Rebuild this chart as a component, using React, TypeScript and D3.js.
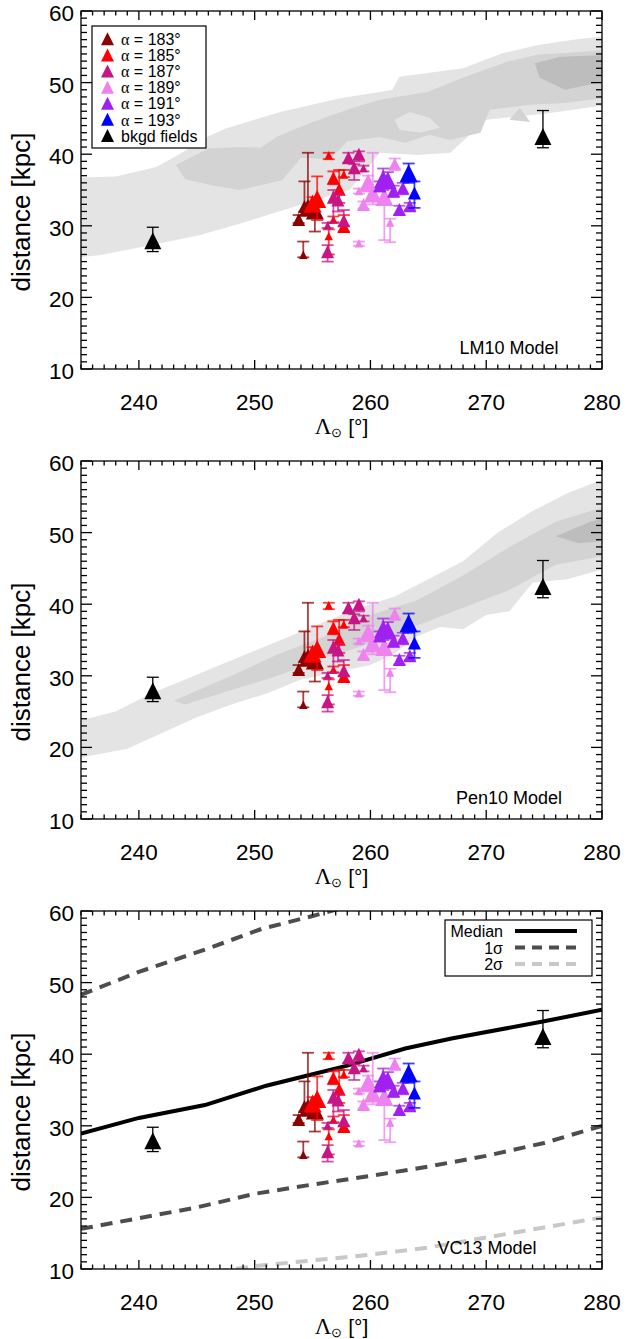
import React from 'react';
import * as d3 from 'd3';

// ---------------- DATA ----------------
const ALPHAS = [183, 185, 187, 189, 191, 193];
const ALPHA_COLORS = ['#8b0000', '#ff0000', '#c71585', '#ee82ee', '#a020f0', '#0000ff'];

// field stars: alpha group, Lambda_sun, distance, error low, error high, marker size class
const PT_ALPHA = [
  183, 183, 183, 183, 183,
  185, 185, 185, 185, 185, 185, 185, 185, 185,
  187, 187, 187, 187, 187, 187, 187, 187, 187,
  189, 189, 189, 189, 189, 189, 189, 189,
  191, 191, 191, 191, 191, 191, 191,
  193, 193,
];
const PT_LAMBDA = [
  253.8, 254.2, 254.6, 254.3, 255.2,
  255.4, 255.0, 256.4, 256.8, 257.3, 257.7, 256.8, 257.7, 256.4,
  258.1, 259.0, 258.6, 259.4, 256.8, 257.2, 257.7, 256.3, 256.3,
  259.0, 259.8, 259.4, 260.2, 261.2, 262.1, 259.0, 261.7,
  261.1, 261.5, 262.0, 262.8, 262.5, 263.4, 260.8,
  263.3, 263.8,
];
const PT_DIST = [
  30.8, 25.9, 32.4, 32.6, 32.0,
  33.6, 33.0, 39.8, 36.6, 35.0, 37.1, 30.8, 29.8, 28.5,
  39.4, 39.9, 38.0, 38.0, 33.9, 33.5, 30.6, 30.0, 26.3,
  34.8, 35.9, 32.9, 34.4, 33.9, 38.5, 27.5, 30.4,
  36.4, 36.2, 34.8, 35.2, 32.2, 32.7, 35.5,
  37.2, 34.5,
];
const PT_ERR_LO = [
  30.4, 25.6, 31.8, 32.0, 29.2,
  30.8, 32.0, 39.3, 35.8, 33.2, 36.8, 30.5, 29.2, 26.0,
  38.8, 39.0, 36.4, 37.6, 30.4, 32.0, 30.0, 29.7, 25.0,
  34.5, 34.8, 32.4, 33.0, 28.0, 38.0, 27.2, 27.7,
  35.0, 35.5, 34.0, 34.4, 31.6, 32.2, 34.8,
  36.0, 32.5,
];
const PT_ERR_HI = [
  31.5, 27.8, 40.2, 36.2, 32.8,
  36.9, 34.0, 40.2, 37.6, 37.8, 37.8, 31.3, 31.5, 29.5,
  40.2, 40.4, 38.6, 38.4, 35.0, 34.5, 32.2, 30.4, 27.3,
  35.2, 37.0, 33.4, 40.2, 36.0, 39.4, 27.8, 31.0,
  38.0, 37.5, 35.6, 36.0, 32.8, 33.2, 36.2,
  38.7, 36.2,
];
const PT_SIZE = [
  2, 1, 3, 2, 3,
  3, 3, 1, 2, 2, 1, 1, 2, 1,
  2, 2, 2, 1, 2, 2, 2, 1, 2,
  1, 3, 2, 3, 3, 2, 1, 1,
  3, 3, 2, 2, 2, 2, 2,
  3, 2,
];

// background fields
const BKGD_LAMBDA = [241.2, 274.9];
const BKGD_DIST = [27.8, 42.35];
const BKGD_ERR_LO = [26.4, 40.9];
const BKGD_ERR_HI = [29.8, 46.1];

// LM10 model density contours (Lambda, distance)
const LM10_LIGHT: [number, number][][] = [[
  [234, 36.7], [238, 36.9], [241.5, 38.2], [243.5, 40.0], [246, 42.5], [247.5, 43.6], [252.2, 45.9], [257.4, 47.8],
  [260.8, 48.7], [261.9, 49.0], [262.5, 50.8], [268, 52], [271.4, 54.1], [274.6, 55.3], [277.5, 56], [281, 56.6],
  [281, 46.9], [279.2, 46.6], [275.2, 45.7], [270, 44.8], [266.9, 40.2], [264, 39.9], [260.8, 40.2],
  [258.2, 35.0], [252.5, 32.2], [248.7, 30.3], [245.3, 28.7], [241, 27.3], [236.6, 25.9], [234, 25.5],
]];
const LM10_MED: [number, number][][] = [
  [
    [243.2, 38.5], [246, 40.8], [248.7, 41.0], [250.5, 40.9], [252, 42.5], [255, 44.5], [258.5, 46.5], [260.8, 47.6], [264.9, 48.7], [268.2, 50.8],
    [271.8, 52.9], [274.4, 53.9], [281, 54.6], [281, 48.0], [277, 47.2], [273.8, 46.9], [270.3, 46.2], [269.5, 43.0],
    [266.9, 42.0], [265.1, 42.7], [263, 41.6], [260.8, 42.4], [258, 41.8], [256.5, 39.3], [254, 39.5], [252.4, 36.4],
    [248.7, 35.0], [246.5, 35.6], [244, 36.5],
  ],
  [[272, 44.8], [272.9, 46.5], [273.8, 44.5]],
];
const LM10_HOLE: [number, number][][] = [[
  [262.1, 44.8], [263.4, 45.9], [265.1, 45.1], [266, 43.7], [264.3, 43.0], [262.5, 43.4],
]];
const LM10_DARK: [number, number][][] = [[
  [274.2, 52.7], [276.4, 53.6], [281, 53.9], [281, 50.4], [276.8, 49.0], [274.6, 50.7],
]];

// Pen10 model density contours
const PEN10_LIGHT: [number, number][][] = [[
  [234, 23.4], [238, 25], [241, 27.5], [244, 29.5], [247, 31.5], [250, 33.5], [253, 35.5], [256, 37.5],
  [259, 39.5], [262, 41], [265, 43.5], [268, 46], [271, 50], [274, 53], [277, 55.5], [281, 58],
  [281, 45.3], [277, 43.5], [274, 43], [272, 39], [270, 38.5], [268, 36.5], [266, 36.8], [264, 35.5],
  [262, 33], [260, 31.5], [257, 30.5], [254, 29.5], [251, 27.5], [248, 26], [245, 24.2], [242, 22], [239, 19.8], [234, 18.3],
]];
const PEN10_MED: [number, number][][] = [[
  [243, 26.5], [248, 30], [252, 33], [256, 35.5], [260, 38.5], [264, 40.5], [268, 44], [272, 48], [276, 51.5], [281, 54],
  [281, 47], [276, 45.5], [272, 42], [268, 39.5], [264, 37], [260, 34.5], [256, 32.5], [252, 30], [248, 28], [244, 26],
]];
const PEN10_DARK: [number, number][][] = [
  [[276, 49.5], [279, 51.5], [281, 52.5], [281, 49], [278, 48.5]],
];

// VC13 model curves
const VC13_MED_LAMBDA = [235, 240, 245.7, 251, 255, 258, 263, 267, 275, 280];
const VC13_MEDIAN = [28.9, 31.1, 32.9, 35.6, 37.2, 38.4, 40.8, 42.2, 44.6, 46.2];
const VC13_S1U_LAMBDA = [235, 240, 245.7, 250.6, 255, 260, 270, 280];
const VC13_SIG1_UP = [48.3, 51.5, 54.6, 57.5, 59.3, 61.5, 66, 70];
const VC13_S1L_LAMBDA = [235, 240, 245, 250, 255, 260, 265, 270, 275, 280];
const VC13_SIG1_LO = [15.6, 17.1, 18.6, 20.5, 21.8, 23.0, 24.3, 25.8, 27.6, 30.0];
const VC13_S2L_LAMBDA = [245, 247, 250, 255, 260, 265, 270, 275, 280];
const VC13_SIG2_LO = [9.0, 9.7, 10.4, 11.2, 12.0, 13.0, 14.4, 15.8, 17.2];

const X_TICKS = [240, 250, 260, 270, 280];
const Y_TICKS = [10, 20, 30, 40, 50, 60];

// ---------------- LAYOUT ----------------
const W = 626;
const H = 1339;
const LEFT = 81;
const RIGHT = 602;
const PH = 358;
const PANEL_TOPS = [11, 461, 911];
const SANS = '"Liberation Sans", Arial, Helvetica, sans-serif';
const SERIF = '"Liberation Serif", "Times New Roman", serif';
const GRAY_LIGHT = '#e4e4e4';
const GRAY_MED = '#d3d3d3';
const GRAY_DARK = '#bdbdbd';

const xScale = d3.scaleLinear().domain([235, 280]).range([LEFT, RIGHT]);

function triPath(cx: number, cy: number, r: number) {
  return `M${cx - r},${cy + r * 0.9}L${cx},${cy - r * 1.1}L${cx + r},${cy + r * 0.9}Z`;
}

const SIZE_R = [0, 4.2, 6.5, 9];

function Panel({ idx }: { idx: number }) {
  const top = PANEL_TOPS[idx];
  const bottom = top + PH;
  const y = d3.scaleLinear().domain([10, 60]).range([bottom, top]);
  const clipId = `clip${idx}`;
  const poly = d3.line<[number, number]>().x((d) => xScale(d[0])).y((d) => y(d[1])).curve(d3.curveLinearClosed);
  const lineGen = (lams: number[], vals: number[]) =>
    d3.line<number>().x((_, i) => xScale(lams[i])).y((v) => y(v))(vals) || '';

  let contours: { polys: [number, number][][]; fill: string }[] = [];
  let label = '';
  if (idx === 0) {
    contours = [
      { polys: LM10_LIGHT, fill: GRAY_LIGHT },
      { polys: LM10_MED, fill: GRAY_MED },
      { polys: LM10_HOLE, fill: GRAY_LIGHT },
      { polys: LM10_DARK, fill: GRAY_DARK },
    ];
    label = 'LM10 Model';
  } else if (idx === 1) {
    contours = [
      { polys: PEN10_LIGHT, fill: GRAY_LIGHT },
      { polys: PEN10_MED, fill: GRAY_MED },
      { polys: PEN10_DARK, fill: GRAY_DARK },
    ];
    label = 'Pen10 Model';
  } else {
    label = 'VC13 Model';
  }

  const xMinor = d3.range(235, 281, 1);
  const yMinor = d3.range(10, 61, 1);
  const labelX = idx === 2 ? 487 : 509;

  return (
    <g>
      <defs>
        <clipPath id={clipId}>
          <rect x={LEFT} y={top} width={RIGHT - LEFT} height={PH} />
        </clipPath>
      </defs>
      <g clipPath={`url(#${clipId})`}>
        {contours.map((c, ci) =>
          c.polys.map((p, pi) => <path key={`${ci}-${pi}`} d={poly(p) || ''} fill={c.fill} stroke="none" />)
        )}
        {idx === 2 && (
          <g fill="none">
            <path d={lineGen(VC13_S2L_LAMBDA, VC13_SIG2_LO)} stroke="#c8c8c8" strokeWidth={4} strokeDasharray="12 8" />
            <path d={lineGen(VC13_S1L_LAMBDA, VC13_SIG1_LO)} stroke="#4d4d4d" strokeWidth={4} strokeDasharray="12 8" />
            <path d={lineGen(VC13_S1U_LAMBDA, VC13_SIG1_UP)} stroke="#4d4d4d" strokeWidth={4} strokeDasharray="12 8" />
            <path d={lineGen(VC13_MED_LAMBDA, VC13_MEDIAN)} stroke="#000" strokeWidth={4} />
          </g>
        )}
      </g>

      <text x={labelX} y={bottom - 15} fontFamily={SANS} fontSize={18} textAnchor="middle">
        {label}
      </text>

      {/* data points by alpha group */}
      {ALPHAS.map((a, gi) => {
        const col = ALPHA_COLORS[gi];
        const ids = PT_ALPHA.map((v, i) => (v === a ? i : -1)).filter((i) => i >= 0);
        return (
          <g key={a}>
            {ids.map((i) => {
              const cx = xScale(PT_LAMBDA[i]);
              const yl = y(PT_ERR_LO[i]);
              const yh = y(PT_ERR_HI[i]);
              return (
                <g key={`e${i}`} stroke={col} strokeWidth={1.8} strokeOpacity={0.75}>
                  <line x1={cx} x2={cx} y1={yl} y2={yh} />
                  <line x1={cx - 6} x2={cx + 6} y1={yl} y2={yl} />
                  <line x1={cx - 6} x2={cx + 6} y1={yh} y2={yh} />
                </g>
              );
            })}
            {ids.map((i) => (
              <path key={`t${i}`} d={triPath(xScale(PT_LAMBDA[i]), y(PT_DIST[i]), SIZE_R[PT_SIZE[i]])} fill={col} />
            ))}
          </g>
        );
      })}
      {BKGD_LAMBDA.map((l, i) => {
        const cx = xScale(l);
        const yl = y(BKGD_ERR_LO[i]);
        const yh = y(BKGD_ERR_HI[i]);
        return (
          <g key={`b${i}`}>
            <g stroke="#000" strokeWidth={1.3}>
              <line x1={cx} x2={cx} y1={yl} y2={yh} />
              <line x1={cx - 6} x2={cx + 6} y1={yl} y2={yl} />
              <line x1={cx - 6} x2={cx + 6} y1={yh} y2={yh} />
            </g>
            <path d={triPath(cx, y(BKGD_DIST[i]), 8.5)} fill="#000" />
          </g>
        );
      })}

      {/* frame and ticks */}
      <g stroke="#000" strokeWidth={1.3} fill="none">
        <rect x={LEFT} y={top} width={RIGHT - LEFT} height={PH} />
        {xMinor.map((t) => {
          const major = t % 10 === 0;
          const L = major ? 9 : 4.5;
          const x = xScale(t);
          return (
            <g key={`xt${t}`}>
              <line x1={x} x2={x} y1={bottom} y2={bottom - L} />
              <line x1={x} x2={x} y1={top} y2={top + L} />
            </g>
          );
        })}
        {yMinor.map((t) => {
          const major = t % 10 === 0;
          const L = major ? 11 : 6;
          const yy = y(t);
          return (
            <g key={`yt${t}`}>
              <line x1={LEFT} x2={LEFT + L} y1={yy} y2={yy} />
              <line x1={RIGHT} x2={RIGHT - L} y1={yy} y2={yy} />
            </g>
          );
        })}
      </g>
      <g fontFamily={SANS} fontSize={22.5} fill="#000">
        {X_TICKS.map((t) => (
          <text key={`xl${t}`} x={xScale(t)} y={bottom + 41} textAnchor="middle">
            {t}
          </text>
        ))}
        {Y_TICKS.map((t) => (
          <text key={`yl${t}`} x={74} y={y(t) + 10} textAnchor="end">
            {t}
          </text>
        ))}
        <text transform={`translate(30,${top + PH / 2 + 22}) rotate(-90)`} textAnchor="middle" fontSize={26}>
          distance [kpc]
        </text>
        <text x={(LEFT + RIGHT) / 2} y={bottom + 65} textAnchor="middle" fontSize={21}>
          <tspan fontFamily={SERIF} fontSize={23}>Λ</tspan>
          <tspan fontFamily={SERIF} fontSize={13} dy={3}>⊙</tspan>
          <tspan dy={-3}> [°]</tspan>
        </text>
      </g>

      {idx === 0 && (
        <g>
          <rect x={92} y={top + 15} width={114} height={122} fill="#fff" stroke="#000" strokeWidth={1.2} />
          {[...ALPHAS.map((a) => `= ${a}°`), 'bkgd fields'].map((s, i) => {
            const cy = top + 28.5 + i * 16.1;
            const col = i < ALPHAS.length ? ALPHA_COLORS[i] : '#000';
            return (
              <g key={`lg${i}`}>
                <path d={triPath(107.5, cy, 6.5)} fill={col} />
                <text x={121} y={cy + 5.5} fontFamily={SANS} fontSize={16}>
                  {i < ALPHAS.length ? (
                    <>
                      <tspan fontFamily={SERIF} fontSize={16}>α</tspan>
                      <tspan> {s}</tspan>
                    </>
                  ) : (
                    s
                  )}
                </text>
              </g>
            );
          })}
        </g>
      )}
      {idx === 2 && (
        <g>
          <rect x={445} y={top + 9} width={147} height={56} fill="#fff" stroke="#000" strokeWidth={1.2} />
          {[
            { t: 'Median', c: '#000', dash: '' },
            { t: '1σ', c: '#4d4d4d', dash: '10 7' },
            { t: '2σ', c: '#c8c8c8', dash: '10 7' },
          ].map((e, i) => {
            const cy = top + 20 + i * 16.5;
            return (
              <g key={`l3${i}`}>
                <text x={503} y={cy + 6} textAnchor="end" fontFamily={SANS} fontSize={16}>
                  {e.t}
                </text>
                <line x1={515} x2={577} y1={cy} y2={cy} stroke={e.c} strokeWidth={4} strokeDasharray={e.dash} />
              </g>
            );
          })}
        </g>
      )}
    </g>
  );
}

export default function App() {
  return (
    <svg
      width={W}
      height={H}
      viewBox={`0 0 ${W} ${H}`}
      style={{ position: 'absolute', left: 0, top: 0, background: '#fff' }}
    >
      <rect x={0} y={0} width={W} height={H} fill="#fff" />
      {[0, 1, 2].map((i) => (
        <Panel key={i} idx={i} />
      ))}
    </svg>
  );
}
